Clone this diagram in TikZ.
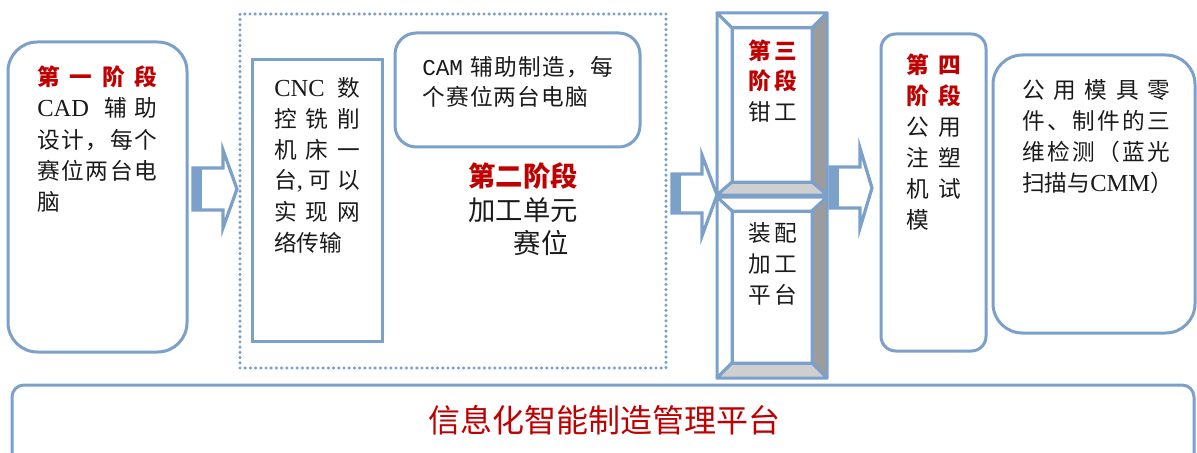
\documentclass[tikz,border=0pt]{standalone}
\usepackage{fontspec}
\setmainfont{Liberation Serif}
\newfontfamily\zh{Noto Sans CJK SC}
\newfontfamily\lat[Scale=1.08]{Liberation Serif}
\newfontfamily\mono{Liberation Mono}
\newdimen\px \px=0.75pt
\newcommand\jl[2]{\makebox[#1\px][s]{#2}}
\definecolor{bl}{HTML}{7BA0CA}
\definecolor{rd}{HTML}{C00000}
\definecolor{gA}{HTML}{9C9C9C}
\definecolor{gB}{HTML}{CFCFCF}
\definecolor{tx}{HTML}{1A1A1A}
\tikzset{
  blk/.style={draw=bl, line width=2.25pt, fill=white, inner sep=0pt, rectangle},
  sz/.style 2 args={minimum width={#1*0.75pt}, minimum height={#2*0.75pt}},
  dotbox/.style={draw=bl, line width=2.6pt, dash pattern=on 0pt off 3.9pt, line cap=round, inner sep=0pt, rectangle},
  bev/.style={draw=bl, line width=2.25pt, line join=round},
  arr/.style={draw=bl, line width=2.4pt, fill=white, line join=miter},
  t/.style={anchor=west, inner sep=0pt, text=tx, font=\zh\fontsize{17pt}{17pt}\selectfont},
  tr/.style={anchor=west, inner sep=0pt, text=rd, font=\zh\bfseries\fontsize{17pt}{17pt}\selectfont},
}
\begin{document}
\begin{tikzpicture}[x=0.75pt,y=-0.75pt]
\useasboundingbox (0,0) rectangle (1197,453);
\clip (0,0) rectangle (1197,453);

% ---------- boxes ----------
\node[blk, rounded corners=22pt, sz={179}{310}] (s1) at (97.5,197) {};
\node[dotbox, sz={426}{354}] (s2) at (453,191) {};
\node[blk, sz={130}{281}] (cnc) at (317,200.5) {};
\node[blk, rounded corners=16pt, sz={245}{114}] (cam) at (517.5,90) {};
\node[blk, rounded corners=11pt, sz={105}{317}] (s4) at (933.5,192.5) {};
\node[blk, rounded corners=22pt, sz={202}{278}] (s5) at (1094,194) {};
\node[blk, rounded corners=9pt, sz={1182}{100}] (bar) at (603,435) {};

% ---------- stage 3 bevels ----------
\filldraw[bev, fill=white] (717,13) -- (827,13) -- (812,28) -- (732,28) -- cycle;
\filldraw[bev, fill=white] (717,13) -- (732,28) -- (732,182) -- (717,195) -- cycle;
\filldraw[bev, fill=gA] (827,13) -- (827,195) -- (812,182) -- (812,28) -- cycle;
\filldraw[bev, fill=gB] (717,195) -- (732,182) -- (812,182) -- (827,195) -- cycle;
\draw[bev] (732,28) rectangle (812,182);

\filldraw[bev, fill=white] (717,197) -- (827,197) -- (812,211) -- (732,211) -- cycle;
\filldraw[bev, fill=white] (717,197) -- (732,211) -- (732,363) -- (717,378) -- cycle;
\filldraw[bev, fill=gA] (827,197) -- (827,378) -- (812,363) -- (812,211) -- cycle;
\filldraw[bev, fill=gB] (717,378) -- (732,363) -- (812,363) -- (827,378) -- cycle;
\draw[bev] (732,211) rectangle (812,363);

% ---------- block arrows ----------
\filldraw[arr] (193,168) -- (223,168) -- (223,150) -- (237,189) -- (223,228) -- (223,210) -- (193,210) -- cycle;
\fill[bl] (192,167) rectangle (202,211);
\filldraw[arr] (672,174) -- (702,174) -- (702,155) -- (717,195) -- (702,236) -- (702,213) -- (672,213) -- cycle;
\fill[bl] (671,173) rectangle (681,214);
\filldraw[arr] (830,167) -- (860,167) -- (860,148) -- (872,188) -- (860,228) -- (860,208) -- (830,208) -- cycle;
\fill[bl] (829,166) rectangle (839,209);

% ---------- stage 1 text ----------
\node[tr] (a1) at (37,77)  {\jl{120}{第\hfill 一\hfill 阶\hfill 段}};
\node[t]  (a2) at (37,108) {\jl{120}{{\lat CAD}\hfill\hfill 辅\hfill 助}};
\node[t]  (a3) at (37,140) {\jl{120}{设\hfill 计\hfill ，\hfill 每\hfill 个}};
\node[t]  (a4) at (37,171) {\jl{120}{赛\hfill 位\hfill 两\hfill 台\hfill 电}};
\node[t]  (a5) at (37,202) {脑};

% ---------- CNC text ----------
\node[t] (c1) at (274,88)  {\jl{86}{{\lat CNC}\hfill 数}};
\node[t] (c2) at (274,119) {\jl{86}{控\hfill 铣\hfill 削}};
\node[t] (c3) at (274,150) {\jl{86}{机\hfill 床\hfill 一}};
\node[t] (c4) at (274,181) {\jl{86}{台{\lat ,}\hfill 可\hfill 以}};
\node[t] (c5) at (274,212) {\jl{86}{实\hfill 现\hfill 网}};
\node[t] (c6) at (274,243) {络传输};

% ---------- CAM text ----------
\node[t] (m1) at (422,67) {\jl{191}{{\mono CAM}\hspace{6\px}\hfill 辅\hfill 助\hfill 制\hfill 造\hfill ，\hfill 每}};
\node[t] (m2) at (422,97) {\jl{166}{个\hfill 赛\hfill 位\hfill 两\hfill 台\hfill 电\hfill 脑}};

% ---------- stage 2 label ----------
\node[text=rd, inner sep=0pt, font=\zh\bfseries\fontsize{20.5pt}{20.5pt}\selectfont] (l1) at (523,176) {第二阶段};
\node[text=tx, inner sep=0pt, font=\zh\fontsize{20.5pt}{20.5pt}\selectfont] (l2) at (523,210) {加工单元};
\node[text=tx, inner sep=0pt, font=\zh\fontsize{20.5pt}{20.5pt}\selectfont] (l3) at (541,243) {赛位};

% ---------- stage 3 text ----------
\node[tr] (d1) at (748,51)  {\jl{49}{第\hfill 三}};
\node[tr] (d2) at (748,81)  {\jl{49}{阶\hfill 段}};
\node[t]  (d3) at (748,112) {\jl{49}{钳\hfill 工}};
\node[t]  (d4) at (748,233) {\jl{49}{装\hfill 配}};
\node[t]  (d5) at (748,264) {\jl{49}{加\hfill 工}};
\node[t]  (d6) at (748,295) {\jl{49}{平\hfill 台}};

% ---------- stage 4 text ----------
\node[tr] (e1) at (906,65)  {\jl{55}{第\hfill 四}};
\node[tr] (e2) at (906,96)  {\jl{55}{阶\hfill 段}};
\node[t]  (e3) at (906,127) {\jl{55}{公\hfill 用}};
\node[t]  (e4) at (906,158) {\jl{55}{注\hfill 塑}};
\node[t]  (e5) at (906,189) {\jl{55}{机\hfill 试}};
\node[t]  (e6) at (906,220) {模};

% ---------- box 5 text ----------
\node[t] (f1) at (1022,90)  {\jl{148}{公\hfill 用\hfill 模\hfill 具\hfill 零}};
\node[t] (f2) at (1022,121) {\jl{148}{件\hfill 、\hfill 制\hfill 件\hfill 的\hfill 三}};
\node[t] (f3) at (1022,152) {\jl{148}{维\hfill 检\hfill 测\hfill （\hfill 蓝\hfill 光}};
\node[t] (f4) at (1022,183) {\jl{148}{扫描与\hfill{\lat CMM}）}};

% ---------- bottom bar text ----------
\node[text=rd, inner sep=0pt, font=\zh\fontsize{24pt}{24pt}\selectfont] (bt) at (604,420) {信息化智能制造管理平台};
\end{tikzpicture}
\end{document}
